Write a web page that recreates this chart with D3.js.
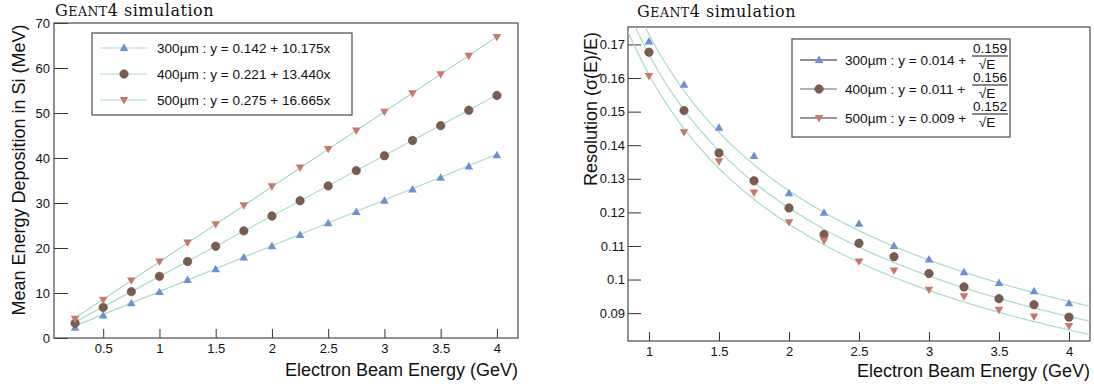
<!DOCTYPE html>
<html>
<head>
<meta charset="utf-8">
<script src="https://cdn.jsdelivr.net/npm/d3@7"></script>
<style>
body { margin: 0; background: #fff; }
text { font-family: "Liberation Sans", Arial, sans-serif; fill: #111; }
</style>
</head>
<body>
<script>
// ---- data: left panel (mean energy deposition) ----
const energyL = [0.25, 0.5, 0.75, 1, 1.25, 1.5, 1.75, 2, 2.25, 2.5, 2.75, 3, 3.25, 3.5, 3.75, 4]
const dep300 = [2.3, 5.0, 7.7, 10.2, 12.9, 15.3, 17.9, 20.4, 22.9, 25.5, 28.0, 30.5, 33.0, 35.6, 38.1, 40.6]
const dep400 = [3.3, 6.8, 10.3, 13.7, 17.0, 20.4, 23.8, 27.1, 30.5, 33.8, 37.2, 40.5, 43.9, 47.2, 50.6, 53.9]
const dep500 = [4.3, 8.5, 12.8, 17.0, 21.2, 25.3, 29.5, 33.7, 37.9, 42.0, 46.1, 50.3, 54.4, 58.6, 62.7, 66.9]
const fitL = [[0.142, 10.175], [0.221, 13.440], [0.275, 16.665]]
const legendL = ['300\u00b5m : y = 0.142 + 10.175x', '400\u00b5m : y = 0.221 + 13.440x', '500\u00b5m : y = 0.275 + 16.665x']

// ---- data: right panel (resolution) ----
const energyR = [1, 1.25, 1.5, 1.75, 2, 2.25, 2.5, 2.75, 3, 3.25, 3.5, 3.75, 4]
const res300 = [0.1709, 0.1580, 0.1452, 0.1368, 0.1257, 0.1199, 0.1166, 0.1100, 0.1060, 0.1022, 0.0990, 0.0965, 0.0929]
const res400 = [0.1677, 0.1503, 0.1377, 0.1294, 0.1213, 0.1134, 0.1108, 0.1068, 0.1018, 0.0978, 0.0943, 0.0925, 0.0888]
const res500 = [0.1606, 0.1439, 0.1352, 0.1259, 0.1171, 0.1116, 0.1054, 0.1027, 0.0970, 0.0950, 0.0910, 0.0890, 0.0862]
const fitR = [[0.014, 0.159], [0.011, 0.156], [0.009, 0.152]]
const legendR = ['300\u00b5m : y = 0.014 +', '400\u00b5m : y = 0.011 +', '500\u00b5m : y = 0.009 +']
const legendRnum = ['0.159', '0.156', '0.152']

// ticks
const xMajorL = [0.5, 1, 1.5, 2, 2.5, 3, 3.5, 4]
const yMajorL = [0, 10, 20, 30, 40, 50, 60, 70]
const xMajorR = [1, 1.5, 2, 2.5, 3, 3.5, 4]
const yMajorR = [0.09, 0.1, 0.11, 0.12, 0.13, 0.14, 0.15, 0.16, 0.17]

const markerColors = ['#6d8fd4', '#7c5c4d', '#c7796c']
const fitColor = '#a9dcc8'
const frameColor = '#4a4a4a'

const svg = d3.select('body').append('svg')
    .attr('width', 1094)
    .attr('height', 387)
    .style('background-color', 'white')

const boxL = {left: 54, right: 518, top: 23, bottom: 338}
const boxR = {left: 628, right: 1090, top: 27, bottom: 341}

const xL = d3.scaleLinear().domain([0.0625, 4.1875]).range([boxL.left, boxL.right])
const yL = d3.scaleLinear().domain([0, 70]).range([boxL.bottom, boxL.top])
const xR = d3.scaleLinear().domain([0.85, 4.15]).range([boxR.left, boxR.right])
const yR = d3.scaleLinear().domain([0.0817, 0.1752]).range([boxR.bottom, boxR.top])

function marker(g, kind, x, y, color) {
    if (kind === 0) {
        g.append('path').attr('d', d3.symbol(d3.symbolTriangle, 32)())
            .attr('transform', `translate(${x},${y + 0.5})`).attr('fill', color)
    } else if (kind === 1) {
        g.append('circle').attr('cx', x).attr('cy', y).attr('r', 4.2)
            .attr('fill', color).attr('stroke', '#5e4438').attr('stroke-width', 0.6)
    } else {
        g.append('path').attr('d', d3.symbol(d3.symbolTriangle, 32)())
            .attr('transform', `translate(${x},${y - 0.5}) rotate(180)`).attr('fill', color)
    }
}

function drawAxes(box, x, y, xMajor, xMinor, yMajor, yMinor, xt, yt, yPad) {
    const gx = svg.append('g').attr('transform', `translate(0,${box.bottom})`)
    gx.call(d3.axisBottom(x).tickValues(xMinor).tickSize(-4.5).tickFormat(''))
    gx.call(d3.axisBottom(x).tickValues(xMajor).tickSize(-xt).tickPadding(6).tickFormat(d => String(d)))
    const gy = svg.append('g').attr('transform', `translate(${box.left},0)`)
    gy.call(d3.axisLeft(y).tickValues(yMinor).tickSize(-yt / 2).tickFormat(''))
    gy.call(d3.axisLeft(y).tickValues(yMajor).tickSize(-yt).tickPadding(yPad).tickFormat(d => String(d)))
    svg.selectAll('.domain').remove()
    svg.selectAll('.tick line').attr('stroke', '#333')
    svg.selectAll('.tick text').style('font-size', '13px').attr('fill', '#111')
    svg.append('rect')
        .attr('x', box.left).attr('y', box.top)
        .attr('width', box.right - box.left).attr('height', box.bottom - box.top)
        .attr('fill', 'none').attr('stroke', frameColor).attr('stroke-width', 1.2)
}

function title(x, y) {
    const t = svg.append('text').attr('x', x).attr('y', y)
        .style('font-family', '"DejaVu Serif", "Liberation Serif", serif')
        .style('font-size', '16px').style('letter-spacing', '0.5px')
    t.append('tspan').text('G')
    t.append('tspan').style('font-size', '12.5px').text('EANT')
    t.append('tspan').text('4 simulation')
}

// ================= left panel =================
drawAxes(boxL, xL, yL, xMajorL, d3.range(0.1, 4.15, 0.1), yMajorL, d3.range(0, 70.1, 2), 9, 14, 4)

const seriesL = [dep300, dep400, dep500]
fitL.forEach(([a, b]) => {
    svg.append('line')
        .attr('x1', xL(0.25)).attr('y1', yL(a + b * 0.25))
        .attr('x2', xL(4)).attr('y2', yL(a + b * 4))
        .attr('stroke', fitColor).attr('stroke-width', 1.2)
})
const mkL = svg.append('g')
seriesL.forEach((s, k) => {
    s.forEach((v, i) => marker(mkL, k, xL(energyL[i]), yL(v), markerColors[k]))
})

// legend
svg.append('rect').attr('x', 92).attr('y', 33).attr('width', 260).attr('height', 82)
    .attr('fill', 'white').attr('stroke', frameColor).attr('stroke-width', 1.2)
legendL.forEach((txt, k) => {
    const cy = 48 + k * 26
    svg.append('line').attr('x1', 100).attr('x2', 147).attr('y1', cy).attr('y2', cy)
        .attr('stroke', fitColor).attr('stroke-width', 1.2)
    marker(svg, k, 124, cy, markerColors[k])
    svg.append('text').attr('x', 157).attr('y', cy + 5).style('font-size', '13.6px').text(txt)
})

title(55, 16)
svg.append('text')
    .attr('transform', 'translate(25,170) rotate(-90)')
    .attr('text-anchor', 'middle').style('font-size', '18px')
    .text('Mean Energy Deposition in Si (MeV)')
svg.append('text')
    .attr('x', boxL.right).attr('y', 376).attr('text-anchor', 'end').style('font-size', '18px')
    .text('Electron Beam Energy (GeV)')

// ================= right panel =================
drawAxes(boxR, xR, yR, xMajorR, d3.range(0.9, 4.15, 0.1), yMajorR, d3.range(0.082, 0.1751, 0.002), 9, 13, 3)

svg.append('clipPath').attr('id', 'clipR').append('rect')
    .attr('x', boxR.left).attr('y', boxR.top)
    .attr('width', boxR.right - boxR.left).attr('height', boxR.bottom - boxR.top)

const fitLine = d3.line().x(d => xR(d[0])).y(d => yR(d[1]))
const eGrid = d3.range(0.85, 4.151, 0.02)
fitR.forEach(([a, b]) => {
    svg.append('path')
        .datum(eGrid.map(e => [e, a + b / Math.sqrt(e)]))
        .attr('clip-path', 'url(#clipR)')
        .attr('d', fitLine)
        .attr('fill', 'none').attr('stroke', fitColor).attr('stroke-width', 1.2)
})
const seriesR = [res300, res400, res500]
const mkR = svg.append('g')
seriesR.forEach((s, k) => {
    s.forEach((v, i) => marker(mkR, k, xR(energyR[i]), yR(v), markerColors[k]))
})

// legend
svg.append('rect').attr('x', 792).attr('y', 39).attr('width', 218).attr('height', 98)
    .attr('fill', 'white').attr('stroke', frameColor).attr('stroke-width', 1.2)
const legLineColors = ['#222', '#666', '#333']
legendR.forEach((txt, k) => {
    const cy = 60 + k * 29
    svg.append('line').attr('x1', 800).attr('x2', 837).attr('y1', cy).attr('y2', cy)
        .attr('stroke', legLineColors[k]).attr('stroke-width', 1)
    marker(svg, k, 819, cy, markerColors[k])
    svg.append('text').attr('x', 845).attr('y', cy + 5).style('font-size', '13.6px').text(txt)
    svg.append('text').attr('x', 990).attr('y', cy - 7).attr('text-anchor', 'middle')
        .style('font-size', '13.6px').text(legendRnum[k])
    svg.append('line').attr('x1', 972).attr('x2', 1008).attr('y1', cy - 4).attr('y2', cy - 4)
        .attr('stroke', '#111').attr('stroke-width', 1)
    svg.append('text').attr('x', 987).attr('y', cy + 9).attr('text-anchor', 'middle')
        .style('font-size', '13.6px').text('\u221aE')
})

title(637, 17)
svg.append('text')
    .attr('transform', 'translate(597,109) rotate(-90)')
    .attr('text-anchor', 'middle').style('font-size', '18px')
    .text('Resolution (\u03c3(E)/E)')
svg.append('text')
    .attr('x', boxR.right).attr('y', 377).attr('text-anchor', 'end').style('font-size', '18px')
    .text('Electron Beam Energy (GeV)')
</script>
</body>
</html>
